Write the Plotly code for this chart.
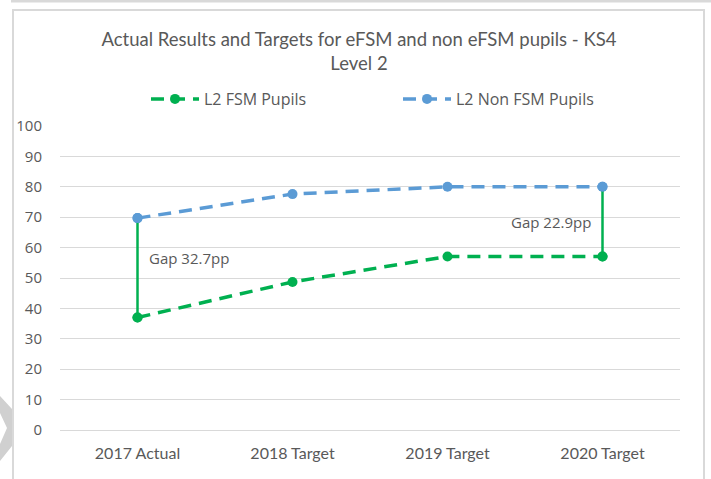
import plotly.graph_objects as go

categories = ["2017 Actual", "2018 Target", "2019 Target", "2020 Target"]
fsm = [37.0, 48.7, 57.1, 57.1]
non_fsm = [69.7, 77.6, 80.0, 80.0]
gap_labels = ["Gap 32.7pp", "Gap 22.9pp"]
y_ticks = [0, 10, 20, 30, 40, 50, 60, 70, 80, 90, 100]

GREEN = "#00B050"
BLUE = "#5B9BD5"
GREY_TXT = "#595959"

W, H = 711, 479
L, R, T, B = 60, 31, 126, 49
PW, PH = W - L - R, H - T - B


def px(x):
    return (x - L) / PW


def py(y):
    return (H - B - y) / PH


fig = go.Figure()

fig.add_trace(go.Scatter(
    x=categories, y=fsm, name="L2 FSM Pupils", mode="lines+markers",
    line=dict(color=GREEN, width=3.5, dash="13px,8px"),
    marker=dict(color=GREEN, size=10)))
fig.add_trace(go.Scatter(
    x=categories, y=non_fsm, name="L2 Non FSM Pupils", mode="lines+markers",
    line=dict(color=BLUE, width=3.5, dash="13px,8px"),
    marker=dict(color=BLUE, size=10)))

# gap lines (high-low)
for i in (0, 3):
    fig.add_trace(go.Scatter(
        x=[categories[i], categories[i]], y=[fsm[i], non_fsm[i]],
        mode="lines", line=dict(color=GREEN, width=2.5),
        showlegend=False, hoverinfo="skip"))
# redraw markers on top of gap lines
for vals, col in ((fsm, GREEN), (non_fsm, BLUE)):
    fig.add_trace(go.Scatter(
        x=[categories[0], categories[3]], y=[vals[0], vals[3]], mode="markers",
        marker=dict(color=col, size=10), showlegend=False, hoverinfo="skip"))

fig.add_annotation(x=categories[0], y=(fsm[0] + non_fsm[0]) / 2 + 3.3,
                   text=gap_labels[0], showarrow=False, xanchor="left",
                   xshift=9, font=dict(family="Open Sans", size=15, color=GREY_TXT))
fig.add_annotation(x=categories[3], y=(fsm[3] + non_fsm[3]) / 2 - 0.2,
                   text=gap_labels[1], showarrow=False, xanchor="right",
                   xshift=-10, font=dict(family="Open Sans", size=15, color=GREY_TXT))

shapes = [
    # chart border
    dict(type="rect", xref="paper", yref="paper", x0=px(13), x1=px(704),
         y0=py(495), y1=py(10), line=dict(color="#d9d9d9", width=2),
         fillcolor="rgba(0,0,0,0)", layer="below"),
    # top bar
    dict(type="rect", xref="paper", yref="paper", x0=px(11), x1=px(711),
         y0=py(2.5), y1=py(0), line=dict(width=0), fillcolor="#d9d9d9"),
    # watermark chevron
    dict(type="path", xref="paper", yref="paper",
         path="M {} {} L {} {} L {} {} L {} {} L {} {} L {} {} L {} {} Z".format(
             px(0), py(396), px(12), py(409), px(12), py(446), px(0), py(461),
             px(0), py(444), px(7), py(428), px(0), py(413)),
         line=dict(width=0), fillcolor="#d0d0d0"),
]

fig.update_layout(
    width=W, height=H,
    margin=dict(l=L, r=R, t=T, b=B),
    paper_bgcolor="white", plot_bgcolor="white",
    shapes=shapes,
    title=dict(text="Actual Results and Targets for eFSM and non eFSM pupils - KS4<br>Level 2",
               x=359 / W, xanchor="center", y=1 - 46 / H, yanchor="middle",
               font=dict(family="Lato", size=18.5, color=GREY_TXT)),
    legend=dict(orientation="h", x=px(146), xanchor="left", y=py(99), yanchor="middle",
                font=dict(family="Open Sans", size=16, color=GREY_TXT),
                entrywidth=189, entrywidthmode="pixels", itemwidth=48),
    xaxis=dict(type="category", categoryorder="array", categoryarray=categories,
               range=[-0.5, 3.5], showgrid=False, showline=False,
               ticks="", ticklabelstandoff=12,
               tickfont=dict(family="Lato", size=16, color=GREY_TXT)),
    yaxis=dict(range=[0, 100], tickvals=y_ticks, showgrid=True, gridcolor="#d9d9d9",
               gridwidth=1, zeroline=True, zerolinecolor="#d9d9d9", zerolinewidth=1,
               showline=False, ticks="", ticklabelstandoff=17,
               tickfont=dict(family="Open Sans", size=15, color=GREY_TXT)),
)

fig.write_html("out.html", config={"displayModeBar": False},
               post_script="document.body.style.margin='0';")
